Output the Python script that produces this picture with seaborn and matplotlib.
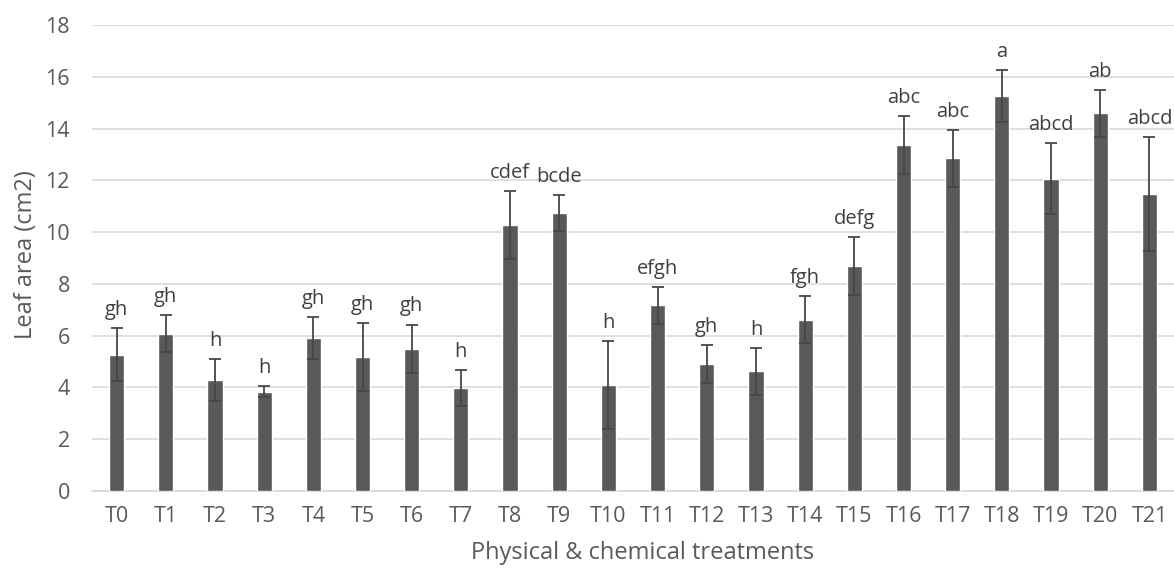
import numpy as np
import pandas as pd
import matplotlib
matplotlib.use("Agg")
import matplotlib.pyplot as plt
import seaborn as sns

# Treatment labels, mean leaf area, error (SD) and significance letters
treatments = [f"T{i}" for i in range(22)]
leaf_area = [5.27, 6.08, 4.29, 3.83, 5.90, 5.19, 5.49, 3.98, 10.29, 10.74, 4.10,
             7.17, 4.92, 4.62, 6.62, 8.70, 13.36, 12.85, 15.25, 12.07, 14.59, 11.48]
errors = [1.02, 0.70, 0.80, 0.21, 0.81, 1.31, 0.94, 0.71, 1.31, 0.71, 1.70,
          0.72, 0.73, 0.90, 0.90, 1.12, 1.12, 1.11, 1.01, 1.38, 0.91, 2.21]
letters = ["gh", "gh", "h", "h", "gh", "gh", "gh", "h", "cdef", "bcde", "h",
           "efgh", "gh", "h", "fgh", "defg", "abc", "abc", "a", "abcd", "ab", "abcd"]

df = pd.DataFrame({"treatment": treatments, "area": leaf_area, "err": errors})

sns.set_theme(style="white")
plt.rcParams["font.family"] = ["Open Sans", "DejaVu Sans"]

text_color = "#595959"
bar_color = "#595959"
grid_color = "#d9d9d9"

W, H = 1174, 568
left, right, top, bottom = 92, 1174, 25, 491
fig = plt.figure(figsize=(W / 100, H / 100), dpi=100)
ax = fig.add_axes([left / W, 1 - bottom / H, (right - left) / W, (bottom - top) / H])

sns.barplot(data=df, x="treatment", y="area", color=bar_color, saturation=1,
            width=0.31, errorbar=None, ax=ax, zorder=3)

xpos = np.arange(len(treatments))
ax.errorbar(xpos, df["area"], yerr=df["err"], fmt="none", ecolor="#474747",
            elinewidth=1.3, capsize=4, capthick=1.3, zorder=4)

for x, v, e, lab in zip(xpos, leaf_area, errors, letters):
    ax.annotate(lab, xy=(x, v + e), xytext=(0, 13), textcoords="offset points",
                ha="center", va="center", fontsize=14.5, color="#404040")

ax.set_ylim(0, 18)
ax.set_xlim(-0.5, len(treatments) - 0.5)
ax.set_yticks(np.arange(0, 19, 2))
ax.yaxis.grid(True, color=grid_color, linewidth=1.2, zorder=0)
ax.set_axisbelow(True)
for side in ["left", "right", "top"]:
    ax.spines[side].set_visible(False)
ax.spines["bottom"].set_color(grid_color)
ax.spines["bottom"].set_linewidth(1.2)

ax.tick_params(axis="both", length=0, labelsize=15.5, colors=text_color)
ax.tick_params(axis="y", pad=16)
ax.tick_params(axis="x", pad=11)

ax.set_xlabel("Physical & chemical treatments", fontsize=17, color=text_color)
ax.set_ylabel("Leaf area (cm2)", fontsize=17, color=text_color)
ax.xaxis.label.set_va("center")
ax.yaxis.label.set_va("center")
ax.xaxis.set_label_coords((643 - left) / (right - left), -(553 - bottom) / (bottom - top))
ax.yaxis.set_label_coords(-(left - 26) / (right - left), (bottom - 255) / (bottom - top))

fig.savefig("out.png", dpi=100, facecolor="white")
